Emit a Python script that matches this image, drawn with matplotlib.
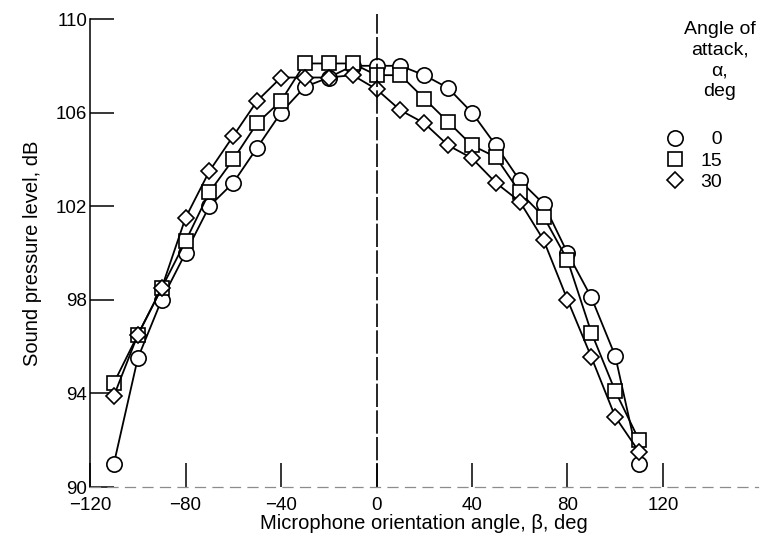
import matplotlib.pyplot as plt
from matplotlib.lines import Line2D

# data

beta = [-110, -100, -90, -80, -70, -60, -50, -40, -30, -20, -10, 0,
        10, 20, 30, 40, 50, 60, 70, 80, 90, 100, 110]

spl_a0 = [91.0, 95.5, 98.0, 100.0, 102.0, 103.0, 104.5, 106.0, 107.1, 107.5, 108.0, 108.0,
          108.0, 107.6, 107.05, 106.0, 104.6, 103.1, 102.1, 100.0, 98.1, 95.6, 91.0]
spl_a15 = [94.45, 96.5, 98.5, 100.5, 102.6, 104.0, 105.55, 106.5, 108.1, 108.1, 108.1, 107.6,
           107.6, 106.6, 105.6, 104.6, 104.1, 102.6, 101.55, 99.7, 96.6, 94.1, 92.0]
spl_a30 = [93.9, 96.5, 98.5, 101.5, 103.5, 105.0, 106.5, 107.5, 107.5, 107.5, 107.6, 107.0,
           106.1, 105.55, 104.6, 104.05, 103.0, 102.2, 100.55, 98.0, 95.55, 93.0, 91.5]

alpha_labels = ["  0", "15", "30"]
markers = ["o", "s", "D"]
msizes = [11, 10, 8]

xticks = [-120, -80, -40, 0, 40, 80, 120]
yticks = [90, 94, 98, 102, 106, 110]

plt.rcParams["font.family"] = ["Liberation Sans", "DejaVu Sans"]

fig = plt.figure(figsize=(7.61, 5.43), dpi=100)
ax = fig.add_axes([0.1183, 0.1031, 0.8784, 0.8619])

for y, m, ms in zip([spl_a0, spl_a15, spl_a30], markers, msizes):
    ax.plot(beta, y, color="black", lw=1.3, marker=m, ms=ms,
            mfc="white", mec="black", mew=1.2)

ax.axvline(0, color="black", lw=1.2, dashes=(14, 2), ymax=1.01, clip_on=False)

ax.set_xlim(-120, 160)
ax.set_ylim(90, 110)
ax.set_xticks(xticks)
ax.set_yticks(yticks)
ax.tick_params(direction="in", length=17, width=1.1, labelsize=13.5)
ax.tick_params(axis="x", pad=7)
ax.tick_params(axis="y", pad=2)

ax.spines["top"].set_visible(False)
ax.spines["right"].set_visible(False)
ax.spines["bottom"].set_color("0.55")
ax.spines["bottom"].set_linestyle((0, (8, 6)))
ax.spines["bottom"].set_linewidth(0.9)
ax.spines["left"].set_linewidth(1.1)

ax.set_xlabel("Microphone orientation angle, β, deg", fontsize=14.5, labelpad=0)
ax.set_ylabel("Sound pressure level, dB", fontsize=14.5, labelpad=10)

fig.text(0.946, 0.962, "Angle of\nattack,\nα,\ndeg", ha="center", va="top",
         fontsize=14, linespacing=1.3)

handles = [Line2D([], [], ls="none", marker=m, ms=ms, mfc="white", mec="black", mew=1.2)
           for m, ms in zip(markers, msizes)]
ax.legend(handles, alpha_labels, loc="upper left", bbox_to_anchor=(0.862, 0.777),
          bbox_transform=fig.transFigure, frameon=False, fontsize=14,
          handlelength=1.0, handletextpad=0.8, labelspacing=0.18, borderpad=0)

fig.savefig("out.png", dpi=100)
